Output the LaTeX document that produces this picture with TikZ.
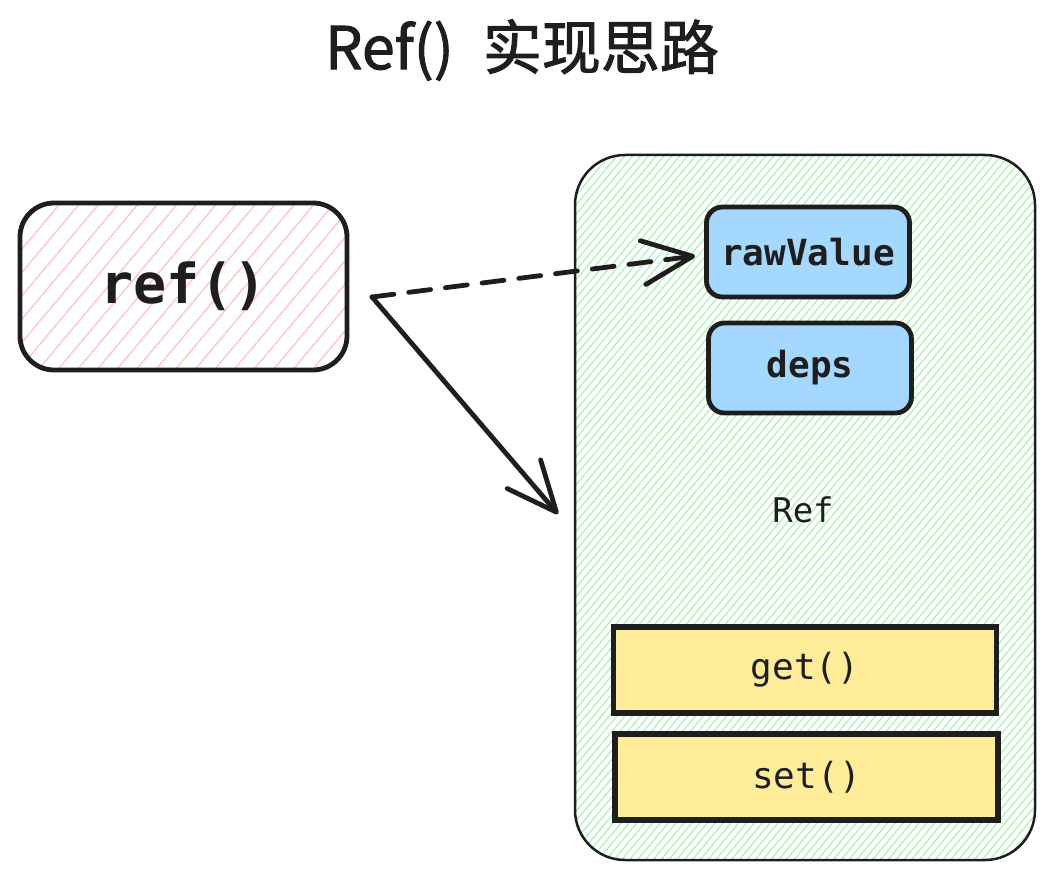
\documentclass[tikz,border=0pt]{standalone}
\usepackage{fontspec}
\setmonofont{DejaVu Sans Mono}
\newfontfamily\cjk{Noto Sans CJK SC}[FakeBold=1.6]
\usetikzlibrary{patterns.meta,arrows.meta}

\definecolor{refred}{HTML}{FFC9C9}
\definecolor{refgreen}{HTML}{B2F2BB}
\definecolor{refblue}{HTML}{A5D8FF}
\definecolor{refyellow}{HTML}{FFEC99}
\definecolor{ink}{HTML}{1E1E1E}

\begin{document}
\begin{tikzpicture}[x=1pt, y=-1pt, line width=4.8pt, draw=ink,
  redbox/.style={draw, rounded corners=34pt, minimum width=327pt, minimum height=167pt,
    pattern={Lines[angle=50, distance=15pt, line width=1.5pt]}, pattern color=refred,
    font=\fontsize{55}{66}\selectfont\ttfamily\bfseries, text=ink},
  outerbox/.style={draw, line width=2.5pt, rounded corners=50pt, minimum width=460pt, minimum height=705pt,
    pattern={Lines[angle=50, distance=6pt, line width=1.4pt]}, pattern color=refgreen},
  fieldbox/.style={draw, rounded corners=16pt, fill=refblue, minimum width=203pt, minimum height=90pt,
    font=\fontsize{36}{44}\selectfont\ttfamily\bfseries, text=ink},
  methodbox/.style={draw, line width=5.5pt, fill=refyellow, minimum width=383pt, minimum height=86pt,
    font=\fontsize{36}{44}\selectfont\ttfamily, text=ink},
  barb/.tip={Straight Barb[length=50pt, width=44pt, line cap=round, line join=round]}]
  \useasboundingbox (0,0) rectangle (1053,882);

  % title
  \node[font=\fontsize{59}{70}\selectfont\cjk, text=ink] (title) at (522,50) {Ref()\hspace{16pt} 实现思路};

  % left: the call
  \node[redbox] (call) at (183.5,286.5) {\raisebox{-4pt}{ref()}};

  % right: the Ref object
  \node[outerbox] (obj) at (805,507.5) {};
  \node[fieldbox] (raw) at (808,252) {rawValue};
  \node[fieldbox] (deps) at (810,368) {deps};
  \node[font=\fontsize{34}{40}\selectfont\ttfamily, text=ink] (name) at (803,510) {Ref};
  \node[methodbox] (get) at (805,670) {get()};
  \node[methodbox] (set) at (806.5,777) {set()};

  % arrows
  \coordinate (src) at (372,297);
  \coordinate (hit) at (558,514);
  \draw[-barb, line cap=round, dash pattern=on 22pt off 15pt] (src) -- ([xshift=-9pt,yshift=-4pt]raw.west);
  \draw[-barb, line cap=round] (src) -- (hit);
\end{tikzpicture}
\end{document}
